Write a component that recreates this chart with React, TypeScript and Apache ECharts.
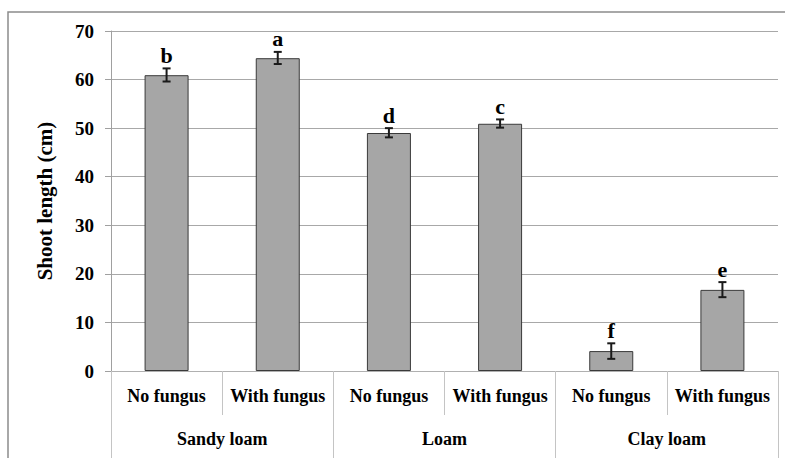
import React, { useEffect, useRef } from "react";
import * as echarts from "echarts";

const subCategories = ["No fungus", "With fungus", "No fungus", "With fungus", "No fungus", "With fungus"];
const groups = ["Sandy loam", "Loam", "Clay loam"];
const shootLength = [60.9, 64.4, 49.0, 50.9, 4.1, 16.7];
const errorLow = [59.6, 63.2, 48.1, 50.1, 2.5, 15.2];
const errorHigh = [62.3, 65.7, 50.0, 51.8, 5.7, 18.3];
const letters = ["b", "a", "d", "c", "f", "e"];
const yTicks = { min: 0, max: 70, interval: 10 };

const FONT = "Liberation Serif";

export default function App() {
  const ref = useRef<HTMLDivElement>(null);
  useEffect(() => {
    document.body.style.margin = "0";
    if (!ref.current) return;
    const chart = echarts.init(ref.current, null, { renderer: "svg" });
    const errData = shootLength.map((_, i) => [i, errorLow[i], errorHigh[i], letters[i]]);
    chart.setOption({
      animation: false,
      backgroundColor: "#ffffff",
      graphic: [
        {
          type: "rect",
          shape: { x: 8, y: 12, width: 800, height: 480 },
          style: { fill: "none", stroke: "#8c8c8c", lineWidth: 1.5 },
          silent: true,
          z: -1,
        },
      ],
      grid: { left: 111, right: 7, top: 31, bottom: 87 },
      xAxis: [
        {
          type: "category",
          data: subCategories,
          position: "bottom",
          axisLine: { show: true, lineStyle: { color: "#b0b0b0", width: 1 } },
          axisTick: { show: true, length: 44, interval: 0, lineStyle: { color: "#c4c4c4" } },
          axisLabel: {
            interval: 0,
            margin: 16,
            color: "#000",
            fontFamily: FONT,
            fontWeight: "bold",
            fontSize: 18,
          },
        },
        {
          type: "category",
          data: groups,
          position: "bottom",
          axisLine: { show: false },
          axisTick: { show: true, length: 95, interval: 0, lineStyle: { color: "#c4c4c4" } },
          axisLabel: {
            interval: 0,
            margin: 59,
            color: "#000",
            fontFamily: FONT,
            fontWeight: "bold",
            fontSize: 18,
          },
        },
      ],
      yAxis: {
        type: "value",
        min: yTicks.min,
        max: yTicks.max,
        interval: yTicks.interval,
        name: "Shoot length (cm)",
        nameLocation: "middle",
        nameGap: 56,
        nameTextStyle: { color: "#000", fontFamily: FONT, fontWeight: "bold", fontSize: 21 },
        axisLine: { show: true, lineStyle: { color: "#a0a0a0" } },
        axisTick: { show: true, length: 6, lineStyle: { color: "#a0a0a0" } },
        splitLine: { show: true, lineStyle: { color: "#a8a8a8", width: 1 } },
        axisLabel: { margin: 17, color: "#000", fontFamily: FONT, fontWeight: "bold", fontSize: 19 },
      },
      series: [
        {
          type: "bar",
          xAxisIndex: 0,
          data: shootLength,
          barWidth: 44,
          itemStyle: { color: "#a6a6a6", borderColor: "#3a3a3a", borderWidth: 1 },
        },
        {
          type: "custom",
          xAxisIndex: 0,
          data: errData,
          z: 10,
          renderItem: (params: any, api: any) => {
            const x = api.value(0);
            const lo = api.coord([x, api.value(1)]);
            const hi = api.coord([x, api.value(2)]);
            const idx = params.dataIndex;
            const cap = 4;
            const ls = { stroke: "#1a1a1a", lineWidth: 2 };
            return {
              type: "group",
              children: [
                { type: "line", shape: { x1: hi[0], y1: hi[1], x2: lo[0], y2: lo[1] }, style: ls },
                { type: "line", shape: { x1: hi[0] - cap, y1: hi[1], x2: hi[0] + cap, y2: hi[1] }, style: ls },
                { type: "line", shape: { x1: lo[0] - cap, y1: lo[1], x2: lo[0] + cap, y2: lo[1] }, style: ls },
                {
                  type: "text",
                  style: {
                    text: letters[idx],
                    x: hi[0],
                    y: hi[1] - 2,
                    align: "center",
                    verticalAlign: "bottom",
                    fill: "#000",
                    fontFamily: FONT,
                    fontWeight: "bold",
                    fontSize: 22,
                  },
                },
              ],
            };
          },
        },
      ],
    });
    return () => chart.dispose();
  }, []);
  return <div ref={ref} style={{ width: 785, height: 458 }} />;
}
